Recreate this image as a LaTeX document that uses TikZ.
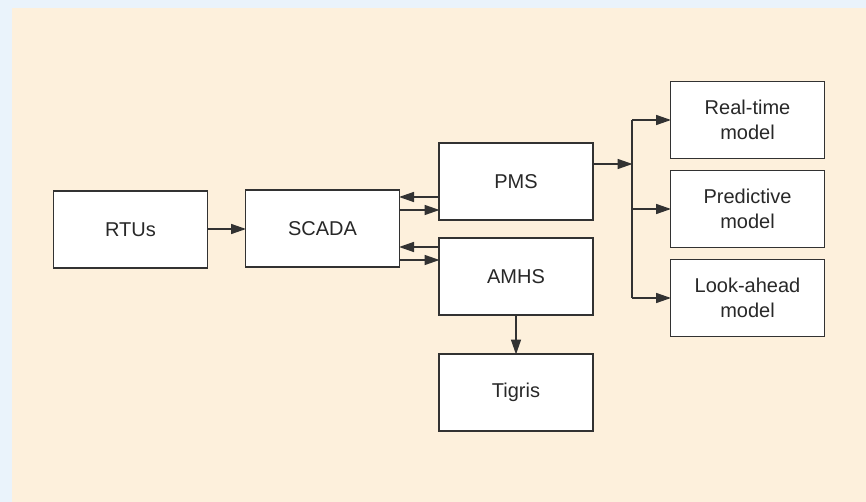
\documentclass[tikz,border=0pt]{standalone}
\usepackage{fontspec}
\setmainfont{Liberation Sans}
\usetikzlibrary{arrows.meta,calc}
\definecolor{pageblue}{RGB}{234,243,251}
\definecolor{panelbeige}{RGB}{253,240,220}
\definecolor{inkgray}{RGB}{50,50,50}
\definecolor{textgray}{RGB}{40,40,40}
\tikzset{
  blk/.style={draw=inkgray, fill=white, line width=1.6pt, minimum width=154pt,
    minimum height=77pt, inner sep=0pt, outer sep=0pt, align=center,
    text=textgray, font=\fontsize{20}{25}\selectfont},
  arr/.style={draw=inkgray, line width=1.5pt,
    -{Triangle[length=15pt,width=10pt]}, shorten >=-0.5pt},
  ln/.style={draw=inkgray, line width=1.5pt}
}
\begin{document}
\begin{tikzpicture}[x=1pt,y=-1pt]
  % background panels
  \fill[pageblue] (0,0) rectangle (866,502);
  \fill[panelbeige] (12,8) rectangle (866,502);
  \useasboundingbox (0,0) rectangle (866,502);

  % blocks
  \node[blk] (rtu) at (130.5,229.5) {RTUs};
  \node[blk] (scada) at (322.5,228.5) {SCADA};
  \node[blk] (pms) at (516,181.5) {PMS};
  \node[blk] (amhs) at (516,276.5) {AMHS};
  \node[blk] (tigris) at (516,392.5) {Tigris};
  \node[blk] (rt) at (747.5,120) {Real-time\\model};
  \node[blk] (pred) at (747.5,209) {Predictive\\model};
  \node[blk] (look) at (747.5,298) {Look-ahead\\model};

  % RTUs to SCADA
  \draw[arr] (rtu.east |- 0,229) -- (scada.west |- 0,229);

  % SCADA <-> PMS
  \draw[arr] (pms.west |- 0,197) -- (scada.east |- 0,197);
  \draw[arr] (scada.east |- 0,210) -- (pms.west |- 0,210);

  % SCADA <-> AMHS
  \draw[arr] (amhs.west |- 0,247) -- (scada.east |- 0,247);
  \draw[arr] (scada.east |- 0,260) -- (amhs.west |- 0,260);

  % AMHS to Tigris
  \draw[arr] (amhs.south) -- (tigris.north);

  % PMS fan-out to the models
  \coordinate (jn) at (632,164);
  \draw[arr] (pms.east |- jn) -- (jn);
  \draw[ln] (jn |- rt.west) -- (jn |- look.west);
  \draw[arr] (jn |- rt.west) -- (rt.west);
  \draw[arr] (jn |- pred.west) -- (pred.west);
  \draw[arr] (jn |- look.west) -- (look.west);
\end{tikzpicture}
\end{document}
